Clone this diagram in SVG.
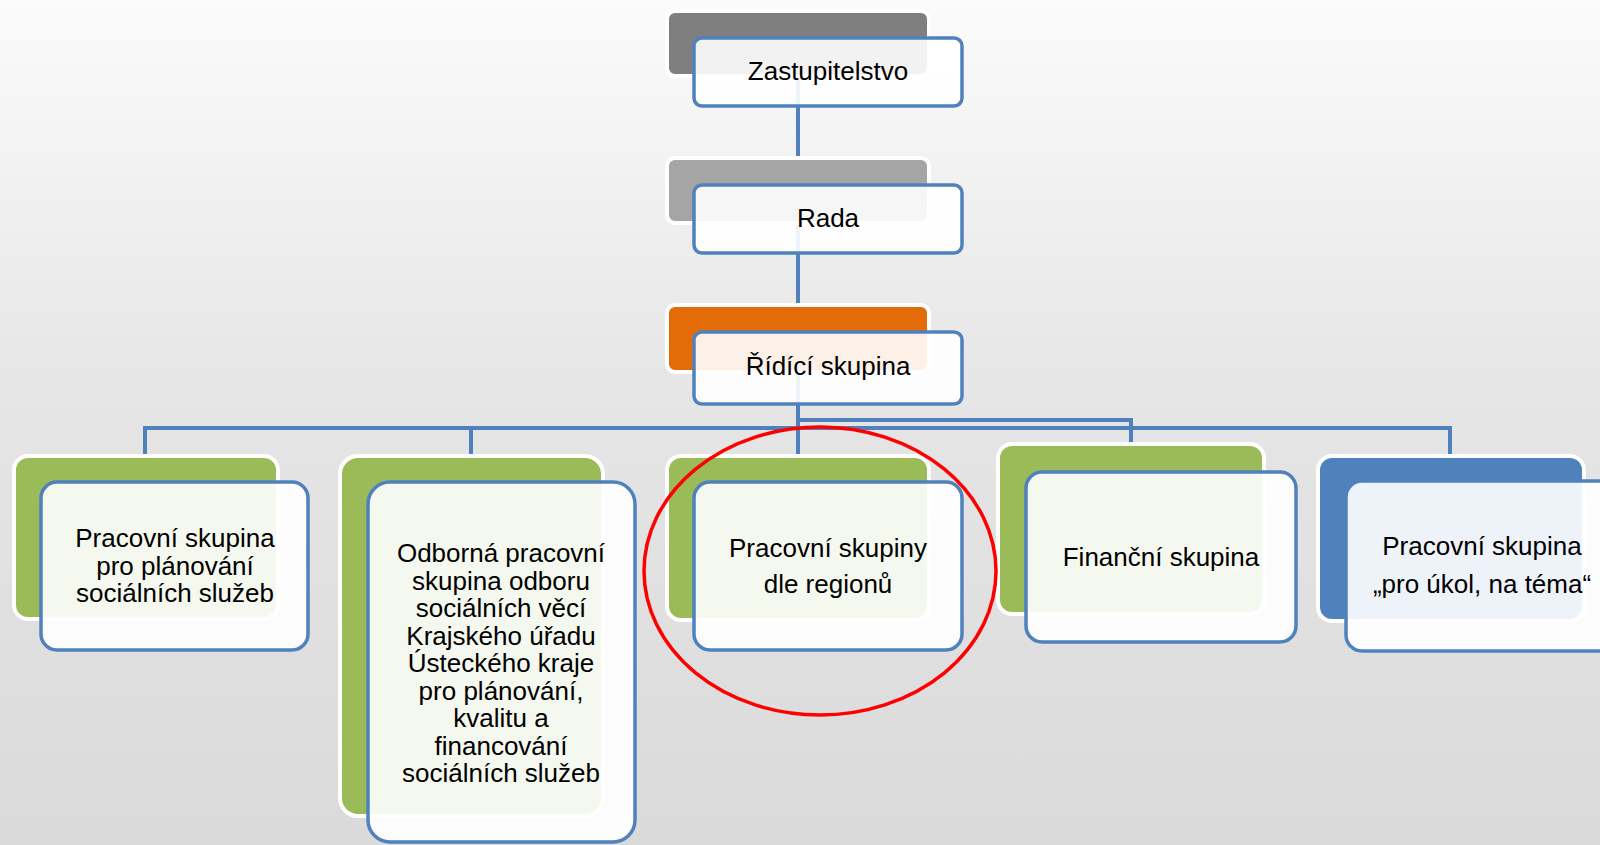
<svg xmlns="http://www.w3.org/2000/svg" width="1600" height="845" viewBox="0 0 1600 845">
<defs>
<linearGradient id="bg" x1="0" y1="0" x2="0" y2="1">
<stop offset="0" stop-color="#fbfbfb"/>
<stop offset="0.45" stop-color="#e6e6e6"/>
<stop offset="1" stop-color="#dadada"/>
</linearGradient>
<style>
.back{stroke:#ffffff;stroke-width:4}
.front{fill:#ffffff;fill-opacity:0.9;stroke:#4F81BD;stroke-width:3.5}
.conn{fill:none;stroke:#4F81BD;stroke-width:4}
text{font-family:"Liberation Sans",Arial,sans-serif;font-size:26px;fill:#000;text-anchor:middle}
</style>
</defs>
<rect x="0" y="0" width="1600" height="845" fill="url(#bg)"/>
<g id="connectors">
<path class="conn" d="M798 77V158M798 223V305M798 372V454"/>
<path class="conn" d="M798 420H1131V444"/>
<path class="conn" d="M145 456V428H1450V456M471 428V456"/>
</g>
<g id="zastupitelstvo">
<rect class="back" x="667" y="11" width="262" height="65" rx="8" fill="#7F7F7F"/>
<rect class="front" x="694" y="38" width="268" height="68" rx="8"/>
<text x="828" y="80">Zastupitelstvo</text>
</g>
<g id="rada">
<rect class="back" x="667" y="158" width="262" height="65" rx="8" fill="#A5A5A5"/>
<rect class="front" x="694" y="185" width="268" height="68" rx="8"/>
<text x="828" y="227">Rada</text>
</g>
<g id="ridici">
<rect class="back" x="667" y="305" width="262" height="67" rx="8" fill="#E36C09"/>
<rect class="front" x="694" y="332" width="268" height="72" rx="8"/>
<text x="828" y="375">Řídící skupina</text>
</g>
<g id="n1">
<rect class="back" x="14" y="456" width="264" height="163" rx="14" fill="#9BBB59"/>
<rect class="front" x="41" y="482" width="267" height="168" rx="16"/>
<text x="175" y="547">Pracovní skupina</text>
<text x="175" y="574.5">pro plánování</text>
<text x="175" y="602">sociálních služeb</text>
</g>
<g id="n2">
<rect class="back" x="340" y="456" width="263" height="360" rx="18" fill="#9BBB59"/>
<rect class="front" x="368" y="482" width="267" height="360" rx="22"/>
<text x="501" y="562">Odborná pracovní</text>
<text x="501" y="589.5">skupina odboru</text>
<text x="501" y="617">sociálních věcí</text>
<text x="501" y="644.5">Krajského úřadu</text>
<text x="501" y="672">Ústeckého kraje</text>
<text x="501" y="699.5">pro plánování,</text>
<text x="501" y="727">kvalitu a</text>
<text x="501" y="754.5">financování</text>
<text x="501" y="782">sociálních služeb</text>
</g>
<g id="n3">
<rect class="back" x="667" y="456" width="262" height="164" rx="14" fill="#9BBB59"/>
<rect class="front" x="694" y="482" width="268" height="168" rx="16"/>
<text x="828" y="557">Pracovní skupiny</text>
<text x="828" y="593">dle regionů</text>
</g>
<g id="n4">
<rect class="back" x="998" y="444" width="266" height="170" rx="14" fill="#9BBB59"/>
<rect class="front" x="1026" y="472" width="270" height="170" rx="16"/>
<text x="1161" y="566">Finanční skupina</text>
</g>
<g id="n5">
<rect class="back" x="1318" y="456" width="266" height="165" rx="14" fill="#4F81BD"/>
<rect class="front" x="1346" y="481" width="270" height="170" rx="16"/>
<text x="1482" y="555">Pracovní skupina</text>
<text x="1482" y="593">„pro úkol, na téma“</text>
</g>
<ellipse cx="820" cy="571" rx="176" ry="144" fill="none" stroke="#FF0000" stroke-width="3.5"/>
</svg>
